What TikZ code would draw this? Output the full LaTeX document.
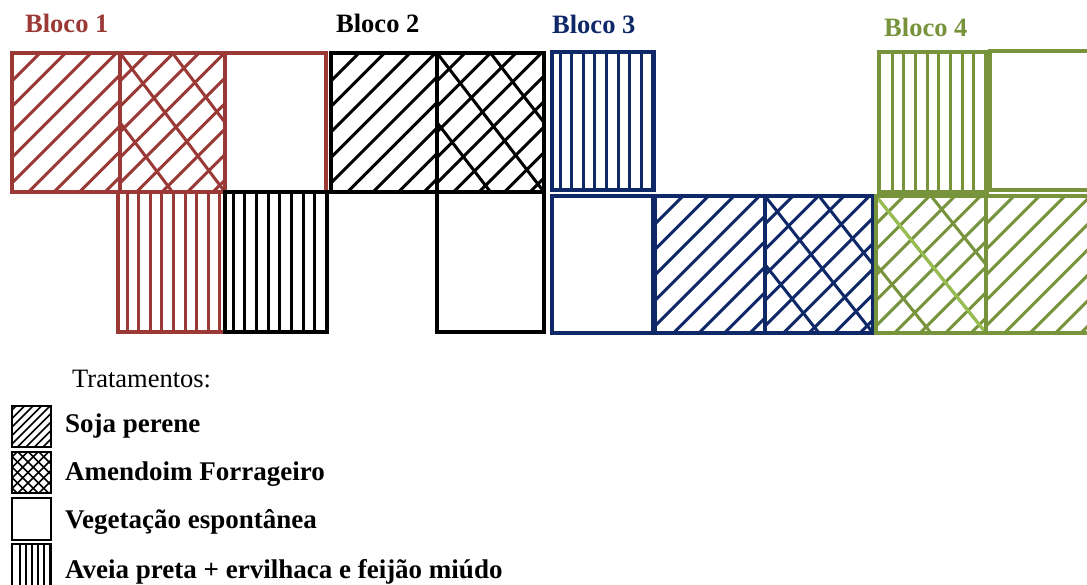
\documentclass[tikz,border=0pt]{standalone}
\usepackage{fontspec}
\setmainfont{Liberation Serif}

\definecolor{blocored}{RGB}{155,57,54}
\definecolor{blocoblue}{RGB}{14,40,104}
\definecolor{blocogreen}{RGB}{119,147,60}
\definecolor{blocogreenlt}{RGB}{152,190,82}

% "/" hatching inside the box (#1,#2)-(#3,#4): first line offset #5, spacing #6
\newcommand\linesNE[6]{%
  \begin{scope}
    \clip (#1,#2) rectangle (#3,#4);
    \pgfmathsetmacro\hh{#4-#2}
    \pgfmathtruncatemacro\nn{((#3-#1)+\hh-#5)/#6+1}
    \foreach \k in {0,...,\nn}
      \draw ({#1-\hh+#5+\k*#6},#4) -- ++({\hh+6},{-\hh-6});
  \end{scope}}

% "\" hatching at 45 degrees, same arguments
\newcommand\linesSE[6]{%
  \begin{scope}
    \clip (#1,#2) rectangle (#3,#4);
    \pgfmathsetmacro\hh{#4-#2}
    \pgfmathtruncatemacro\nn{((#3-#1)+\hh-#5)/#6+1}
    \foreach \k in {0,...,\nn}
      \draw ({#1-\hh+#5+\k*#6},#2) -- ++({\hh+6},{\hh+6});
  \end{scope}}

% "\" lines of the field crosshatch: the cell diagonal and its two half-width parallels
\newcommand\linesDiag[4]{%
  \begin{scope}
    \clip (#1,#2) rectangle (#3,#4);
    \foreach \j in {-1,0,1}
      \draw ({#1+\j*(#3-#1)/2},#2) -- ({#3+\j*(#3-#1)/2},#4);
  \end{scope}}

% vertical hatching: first line offset #5, spacing #6
\newcommand\linesV[6]{%
  \begin{scope}
    \clip (#1,#2) rectangle (#3,#4);
    \foreach \k in {0,...,12}
      \draw ({#1+#5+\k*#6},#2) -- ({#1+#5+\k*#6},#4);
  \end{scope}}

% field plot types
\newcommand\plotSoja[4]{\linesNE{#1}{#2}{#3}{#4}{28}{25.5}\draw[cellbox] (#1,#2) rectangle (#3,#4);}
\newcommand\plotAmend[4]{\linesNE{#1}{#2}{#3}{#4}{28}{25.5}\linesDiag{#1}{#2}{#3}{#4}\draw[cellbox] (#1,#2) rectangle (#3,#4);}
\newcommand\plotVeg[4]{\draw[cellbox] (#1,#2) rectangle (#3,#4);}
\newcommand\plotAveia[6]{\linesV{#1}{#2}{#3}{#4}{#5}{#6}\draw[cellbox] (#1,#2) rectangle (#3,#4);}

\tikzset{
  cellbox/.style={line width=3.2pt},
  blocolabel/.style={font={\fontsize{26.5}{30}\selectfont\bfseries}, anchor=base west, inner sep=0pt},
  legtitle/.style={font={\fontsize{26.5}{30}\selectfont}, anchor=base west, inner sep=0pt},
  legtext/.style={font={\fontsize{27}{30}\selectfont\bfseries}, anchor=base west, inner sep=0pt},
  legbox/.style={line width=2.5pt},
}

\begin{document}
\begin{tikzpicture}[x=1pt, y=-1pt]
\clip (0,0) rectangle (1087,585);
\fill[white] (0,0) rectangle (1087,585);

% ---------- Bloco 1 ----------
\begin{scope}[draw=blocored, line width=3pt]
  \plotSoja{12}{53}{120}{192}
  \plotAmend{120}{53}{225}{192}
  \plotVeg{225}{53}{326}{192}
  \plotAveia{118}{192}{225}{332}{9}{11.6}
\end{scope}
\node[blocolabel, text=blocored] (b1) at (25,33) {Bloco 1};

% ---------- Bloco 2 ----------
\begin{scope}[draw=black, line width=3pt]
  \plotAveia{225}{192}{327}{332}{8}{11.7}
  \plotSoja{331}{53}{437}{192}
  \plotAmend{437}{53}{544}{192}
  \plotVeg{437}{192}{544}{332}
\end{scope}
\node[blocolabel, text=black] (b2) at (336,33) {Bloco 2};

% ---------- Bloco 3 ----------
\begin{scope}[draw=blocoblue, line width=3pt]
  \plotAveia{552}{52}{654}{190}{8}{11.6}
  \plotVeg{552}{196}{653}{333}
  \plotSoja{655}{196}{765}{333}
  \plotAmend{765}{196}{873}{333}
\end{scope}
\node[blocolabel, text=blocoblue] (b3) at (552,34) {Bloco 3};

% ---------- Bloco 4 ----------
\begin{scope}[draw=blocogreen, line width=3pt]
  \plotAveia{879}{52}{987}{192}{13}{11.7}
  \plotVeg{990}{51}{1100}{190}
  \plotAmend{876}{196}{986}{333}
  \begin{scope}
    \clip (876,196) rectangle (986,333);
    \draw[blocogreenlt] (876,196) -- (986,333);
  \end{scope}
  \draw[cellbox] (876,196) rectangle (986,333);
  \plotSoja{986}{196}{1100}{333}
\end{scope}
\node[blocolabel, text=blocogreen] (b4) at (884,37) {Bloco 4};

% ---------- Legenda ----------
\node[legtitle] (trat) at (72,387) {Tratamentos:};

\begin{scope}[draw=black, line width=1.6pt]
  \linesNE{12}{406}{51}{447}{4}{8.5}
  \draw[legbox] (12,406) rectangle (51,447);
  \linesNE{12}{452}{51}{493}{5}{10.5}
  \linesSE{12}{452}{51}{493}{5}{10.5}
  \draw[legbox] (12,452) rectangle (51,493);
  \draw[legbox] (12,498) rectangle (51,540);
  \linesV{12}{544}{51}{600}{8}{6}
  \draw[legbox] (12,544) rectangle (51,600);
\end{scope}

\node[legtext] (l1) at (65,432) {Soja perene};
\node[legtext] (l2) at (65,480) {Amendoim Forrageiro};
\node[legtext] (l3) at (65,528) {Vegetação espontânea};
\node[legtext] (l4) at (65,578) {Aveia preta + ervilhaca e feijão miúdo};
\end{tikzpicture}
\end{document}
